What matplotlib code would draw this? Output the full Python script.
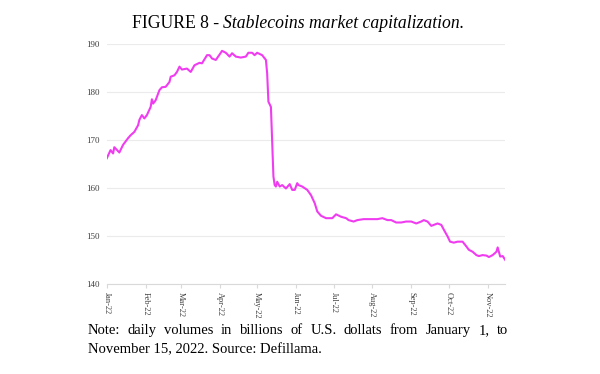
import numpy as np
import matplotlib
matplotlib.use("Agg")
import matplotlib.pyplot as plt
import matplotlib.dates as mdates

# stablecoin market cap, billions USD (day offset from Jan 1 2022)
days = [0, 3, 5, 6, 10, 13, 17, 19, 22, 25, 26, 28, 30, 32, 35, 36, 37, 39, 42, 44,
        47, 50, 51, 54, 56, 58, 60, 64, 67, 70, 74, 76, 80, 82, 84, 87, 91, 92, 95, 98,
        100, 103, 107, 111, 113, 116, 118, 120, 124, 127, 128, 129, 131, 133, 134, 135, 136, 138, 140, 143,
        146, 148, 150, 152, 153, 156, 160, 163, 166, 168, 171, 175, 180, 183, 187, 191, 193, 197, 200, 205,
        211, 216, 220, 224, 227, 231, 235, 239, 243, 247, 251, 253, 256, 259, 261, 264, 267, 269, 272, 274,
        277, 280, 284, 287, 289, 292, 295, 297, 300, 303, 305, 308, 311, 312, 314, 316, 318]
mcap = [166.2, 167.9, 167.2, 168.5, 167.4, 169.0, 170.4, 171.0, 171.7, 173.1, 174.2, 175.2, 174.5, 175.2, 176.9, 178.5, 177.6, 178.3, 180.4, 181.0,
        181.1, 182.1, 183.2, 183.5, 184.2, 185.3, 184.7, 184.9, 184.2, 185.6, 186.1, 186.0, 187.7, 187.7, 187.0, 186.7, 188.2, 188.6, 188.2, 187.4,
        188.1, 187.4, 187.2, 187.4, 188.2, 188.2, 187.7, 188.2, 187.7, 186.7, 183.9, 178.0, 176.9, 162.4, 160.6, 160.3, 161.3, 160.3, 160.6, 159.9,
        160.8, 159.6, 159.6, 161.0, 160.6, 160.3, 159.6, 158.5, 156.8, 155.1, 154.2, 153.7, 153.7, 154.5, 154.0, 153.7, 153.3, 153.0, 153.3, 153.5,
        153.5, 153.5, 153.7, 153.3, 153.3, 152.8, 152.8, 153.0, 153.0, 152.6, 153.0, 153.3, 153.0, 152.1, 152.3, 152.6, 152.3, 151.3, 149.9, 148.8,
        148.6, 148.8, 148.8, 147.8, 147.1, 146.7, 146.0, 145.8, 146.0, 145.9, 145.6, 146.0, 146.7, 147.6, 145.7, 145.8, 145.0]

yticks = [140, 150, 160, 170, 180, 190]
title_plain = "FIGURE 8 - "
title_italic = "Stablecoins market capitalization."
note_line1 = "Note: daily volumes in billions of U.S. dollats from January 1, to"
note_line2 = "November 15, 2022. Source: Defillama."

dates = np.datetime64("2022-01-01") + np.array(days).astype("timedelta64[D]")

plt.rcParams["font.family"] = ["Liberation Serif", "DejaVu Serif"]

fig = plt.figure(figsize=(6, 3.74), dpi=100)
ax = fig.add_axes([0.178, 0.241, 0.664, 0.641])

ax.plot(dates, mcap, color="#f03cf0", lw=1.5)

ax.set_ylim(140, 190)
ax.set_yticks(yticks)
ax.set_xlim(np.datetime64("2022-01-01"), np.datetime64("2022-11-15"))
ax.xaxis.set_major_locator(mdates.MonthLocator())
ax.xaxis.set_major_formatter(mdates.DateFormatter("%b-%y"))
ax.grid(axis="y", color="#ebebeb", lw=0.8)
ax.set_axisbelow(True)
for s in ["top", "right", "left"]:
    ax.spines[s].set_visible(False)
ax.spines["bottom"].set_color("#d9d9d9")
ax.tick_params(axis="y", length=0, labelsize=6.5, labelcolor="#404040", pad=5)
ax.tick_params(axis="x", length=3, color="#d9d9d9", labelsize=6, labelcolor="#404040",
               labelrotation=270, pad=3)

# title: plain part + italic part, centred together
renderer = fig.canvas.get_renderer()
t1 = fig.text(0, 0, title_plain, fontsize=12.7)
t2 = fig.text(0, 0, title_italic, fontsize=12.7, style="italic")
w1 = t1.get_window_extent(renderer).width
w2 = t2.get_window_extent(renderer).width
x0 = 298 - (w1 + w2) / 2
t1.set_position((x0 / 600, 1 - 28 / 374))
t2.set_position(((x0 + w1) / 600, 1 - 28 / 374))

# note, first line justified
words = note_line1.split()
objs = [fig.text(0, 1 - 334 / 374, w, fontsize=10.5) for w in words]
ws = [o.get_window_extent(renderer).width for o in objs]
left, right = 88, 508
gap = (right - left - sum(ws)) / (len(words) - 1)
x = left
for o, w in zip(objs, ws):
    o.set_x(x / 600)
    x += w + gap
fig.text(left / 600, 1 - 353 / 374, note_line2, fontsize=10.5)

fig.savefig("out.png", dpi=100)
